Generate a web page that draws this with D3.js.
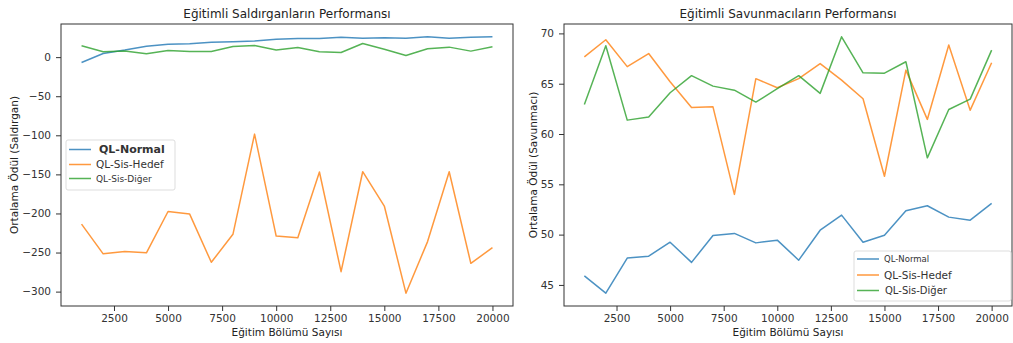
<!DOCTYPE html>
<html>
<head>
<meta charset="utf-8">
<script src="https://cdn.jsdelivr.net/npm/d3@7"></script>
<style>
  body { margin: 0; background: #fff; }
  svg { font-family: "DejaVu Sans", sans-serif; }
  .tick text { fill: #333; }
</style>
</head>
<body>
<svg id="chart" width="1013" height="343"></svg>
<script>
// Episodes (x axis)
const episodes = [1000, 2000, 3000, 4000, 5000, 6000, 7000, 8000, 9000, 10000,
                  11000, 12000, 13000, 14000, 15000, 16000, 17000, 18000, 19000, 20000];

// Attackers (left chart)
const attNormal = [-6.8, 4.7, 9, 14, 16.6, 17, 19, 19.6, 20.5, 23,
                   24, 24, 25.6, 24.3, 24.7, 24.3, 26, 24.3, 25.6, 26];
const attHedef = [-213.6, -251.7, -248.7, -250.4, -197.5, -200.8, -262.5, -226.7, -98.5, -228.9,
                  -231, -147, -274.5, -146.6, -190.5, -302, -236, -146.6, -263.8, -243.8];
const attDiger = [14.5, 6.8, 8, 4.3, 8.5, 7.2, 7.2, 13.6, 15, 9,
                  12.4, 6.8, 6, 17.5, 10.2, 2.1, 10.7, 12.8, 7.7, 13.2];

// Defenders (right chart)
const defNormal = [45.9, 44.18, 47.67, 47.86, 49.25, 47.24, 49.92, 50.12, 49.18, 49.45,
                   47.46, 50.44, 51.94, 49.25, 49.94, 52.37, 52.87, 51.74, 51.44, 53.1];
const defHedef = [67.67, 69.37, 66.7, 68.0, 65.2, 62.64, 62.7, 54.0, 65.5, 64.6,
                  65.5, 67.0, 65.35, 63.5, 55.8, 66.35, 61.45, 68.84, 62.37, 67.08];
const defDiger = [62.94, 68.77, 61.38, 61.7, 64.1, 65.8, 64.76, 64.36, 63.17, 64.5,
                  65.8, 64.04, 69.66, 66.08, 66.05, 67.18, 57.63, 62.44, 63.47, 68.34];

const seriesNames = ["QL-Normal", "QL-Sis-Hedef", "QL-Sis-Diğer"];
const colors = ["#1f77b4", "#ff7f0e", "#2ca02c"];

const xTicks = [2500, 5000, 7500, 10000, 12500, 15000, 17500, 20000];
const attTicks = [0, -50, -100, -150, -200, -250, -300];
const defTicks = [45, 50, 55, 60, 65, 70];

const svg = d3.select("#chart");

// matplotlib-like auto limits (5% margin)
function padded(values) {
  const [lo, hi] = d3.extent(values);
  const m = (hi - lo) * 0.05;
  return [lo - m, hi + m];
}

function drawPanel(opts) {
  const {left, right, top, bottom, series, yTicks, title, yLabel, legend} = opts;
  const g = svg.append("g");

  const x = d3.scaleLinear().domain(padded(episodes)).range([left, right]);
  const y = d3.scaleLinear().domain(padded(series.flat())).range([bottom, top]);

  // lines
  const line = d3.line().x((d, i) => x(episodes[i])).y(d => y(d));
  series.forEach((s, i) => {
    g.append("path")
      .datum(s)
      .attr("fill", "none")
      .attr("stroke", colors[i])
      .attr("stroke-opacity", 0.8)
      .attr("stroke-width", 1.5)
      .attr("stroke-linejoin", "round")
      .attr("d", line);
  });

  // axes
  const fmt = d3.format("d");
  g.append("g")
    .attr("transform", `translate(0,${bottom})`)
    .call(d3.axisBottom(x).tickValues(xTicks).tickFormat(fmt).tickSize(5).tickPadding(4))
    .call(a => a.select(".domain").remove())
    .call(a => a.selectAll("line").attr("stroke", "#333"))
    .call(a => a.selectAll("text").attr("font-size", 10.5).attr("font-family", "DejaVu Sans"));

  g.append("g")
    .attr("transform", `translate(${left},0)`)
    .call(d3.axisLeft(y).tickValues(yTicks).tickFormat(fmt).tickSize(5).tickPadding(5))
    .call(a => a.select(".domain").remove())
    .call(a => a.selectAll("line").attr("stroke", "#333"))
    .call(a => a.selectAll("text").attr("font-size", 10.5).attr("font-family", "DejaVu Sans"));

  // frame
  g.append("rect")
    .attr("x", left).attr("y", top)
    .attr("width", right - left).attr("height", bottom - top)
    .attr("fill", "none").attr("stroke", "#333").attr("stroke-width", 1);

  // title
  g.append("text")
    .attr("x", (left + right) / 2).attr("y", top - 6)
    .attr("text-anchor", "middle")
    .attr("font-size", 12).attr("fill", "#222")
    .text(title);

  // x label
  g.append("text")
    .attr("x", (left + right) / 2).attr("y", 336)
    .attr("text-anchor", "middle")
    .attr("font-size", 10.5).attr("fill", "#222")
    .text("Eğitim Bölümü Sayısı");

  // y label
  g.append("text")
    .attr("transform", `translate(${opts.yLabelX},${(top + bottom) / 2}) rotate(-90)`)
    .attr("text-anchor", "middle")
    .attr("font-size", 10.5).attr("fill", "#222")
    .text(yLabel);

  // legend
  const lg = g.append("g");
  lg.append("rect")
    .attr("x", legend.x).attr("y", legend.y)
    .attr("width", legend.w).attr("height", legend.h)
    .attr("rx", 2)
    .attr("fill", "#fff").attr("fill-opacity", 0.85)
    .attr("stroke", "#ddd");
  seriesNames.forEach((name, i) => {
    const cy = legend.rows[i];
    lg.append("line")
      .attr("x1", legend.x + 3).attr("x2", legend.x + 25)
      .attr("y1", cy).attr("y2", cy)
      .attr("stroke", colors[i]).attr("stroke-opacity", 0.8).attr("stroke-width", 1.5);
    lg.append("text")
      .attr("x", legend.x + legend.textDx[i]).attr("y", cy)
      .attr("dy", "0.35em")
      .attr("font-size", legend.sizes[i])
      .attr("font-weight", legend.weights[i])
      .attr("fill", "#333")
      .text(name);
  });
}

drawPanel({
  left: 61, right: 513, top: 24, bottom: 306,
  series: [attNormal, attHedef, attDiger],
  yTicks: attTicks,
  title: "Eğitimli Saldırganların Performansı",
  yLabel: "Ortalama Ödül (Saldırgan)",
  yLabelX: 18,
  legend: {x: 66, y: 140, w: 109, h: 50, rows: [149.5, 164.5, 178.5],
           textDx: [33, 30, 30], sizes: [11, 10.5, 9], weights: [600, 400, 400]}
});

drawPanel({
  left: 564, right: 1012, top: 24, bottom: 306,
  series: [defNormal, defHedef, defDiger],
  yTicks: defTicks,
  title: "Eğitimli Savunmacıların Performansı",
  yLabel: "Ortalama Ödül (Savunmacı)",
  yLabelX: 537,
  legend: {x: 854, y: 251, w: 157, h: 50, rows: [259, 275, 290.5],
           textDx: [30, 30, 31], sizes: [8.5, 10.5, 10], weights: [400, 400, 400]}
});
</script>
</body>
</html>
